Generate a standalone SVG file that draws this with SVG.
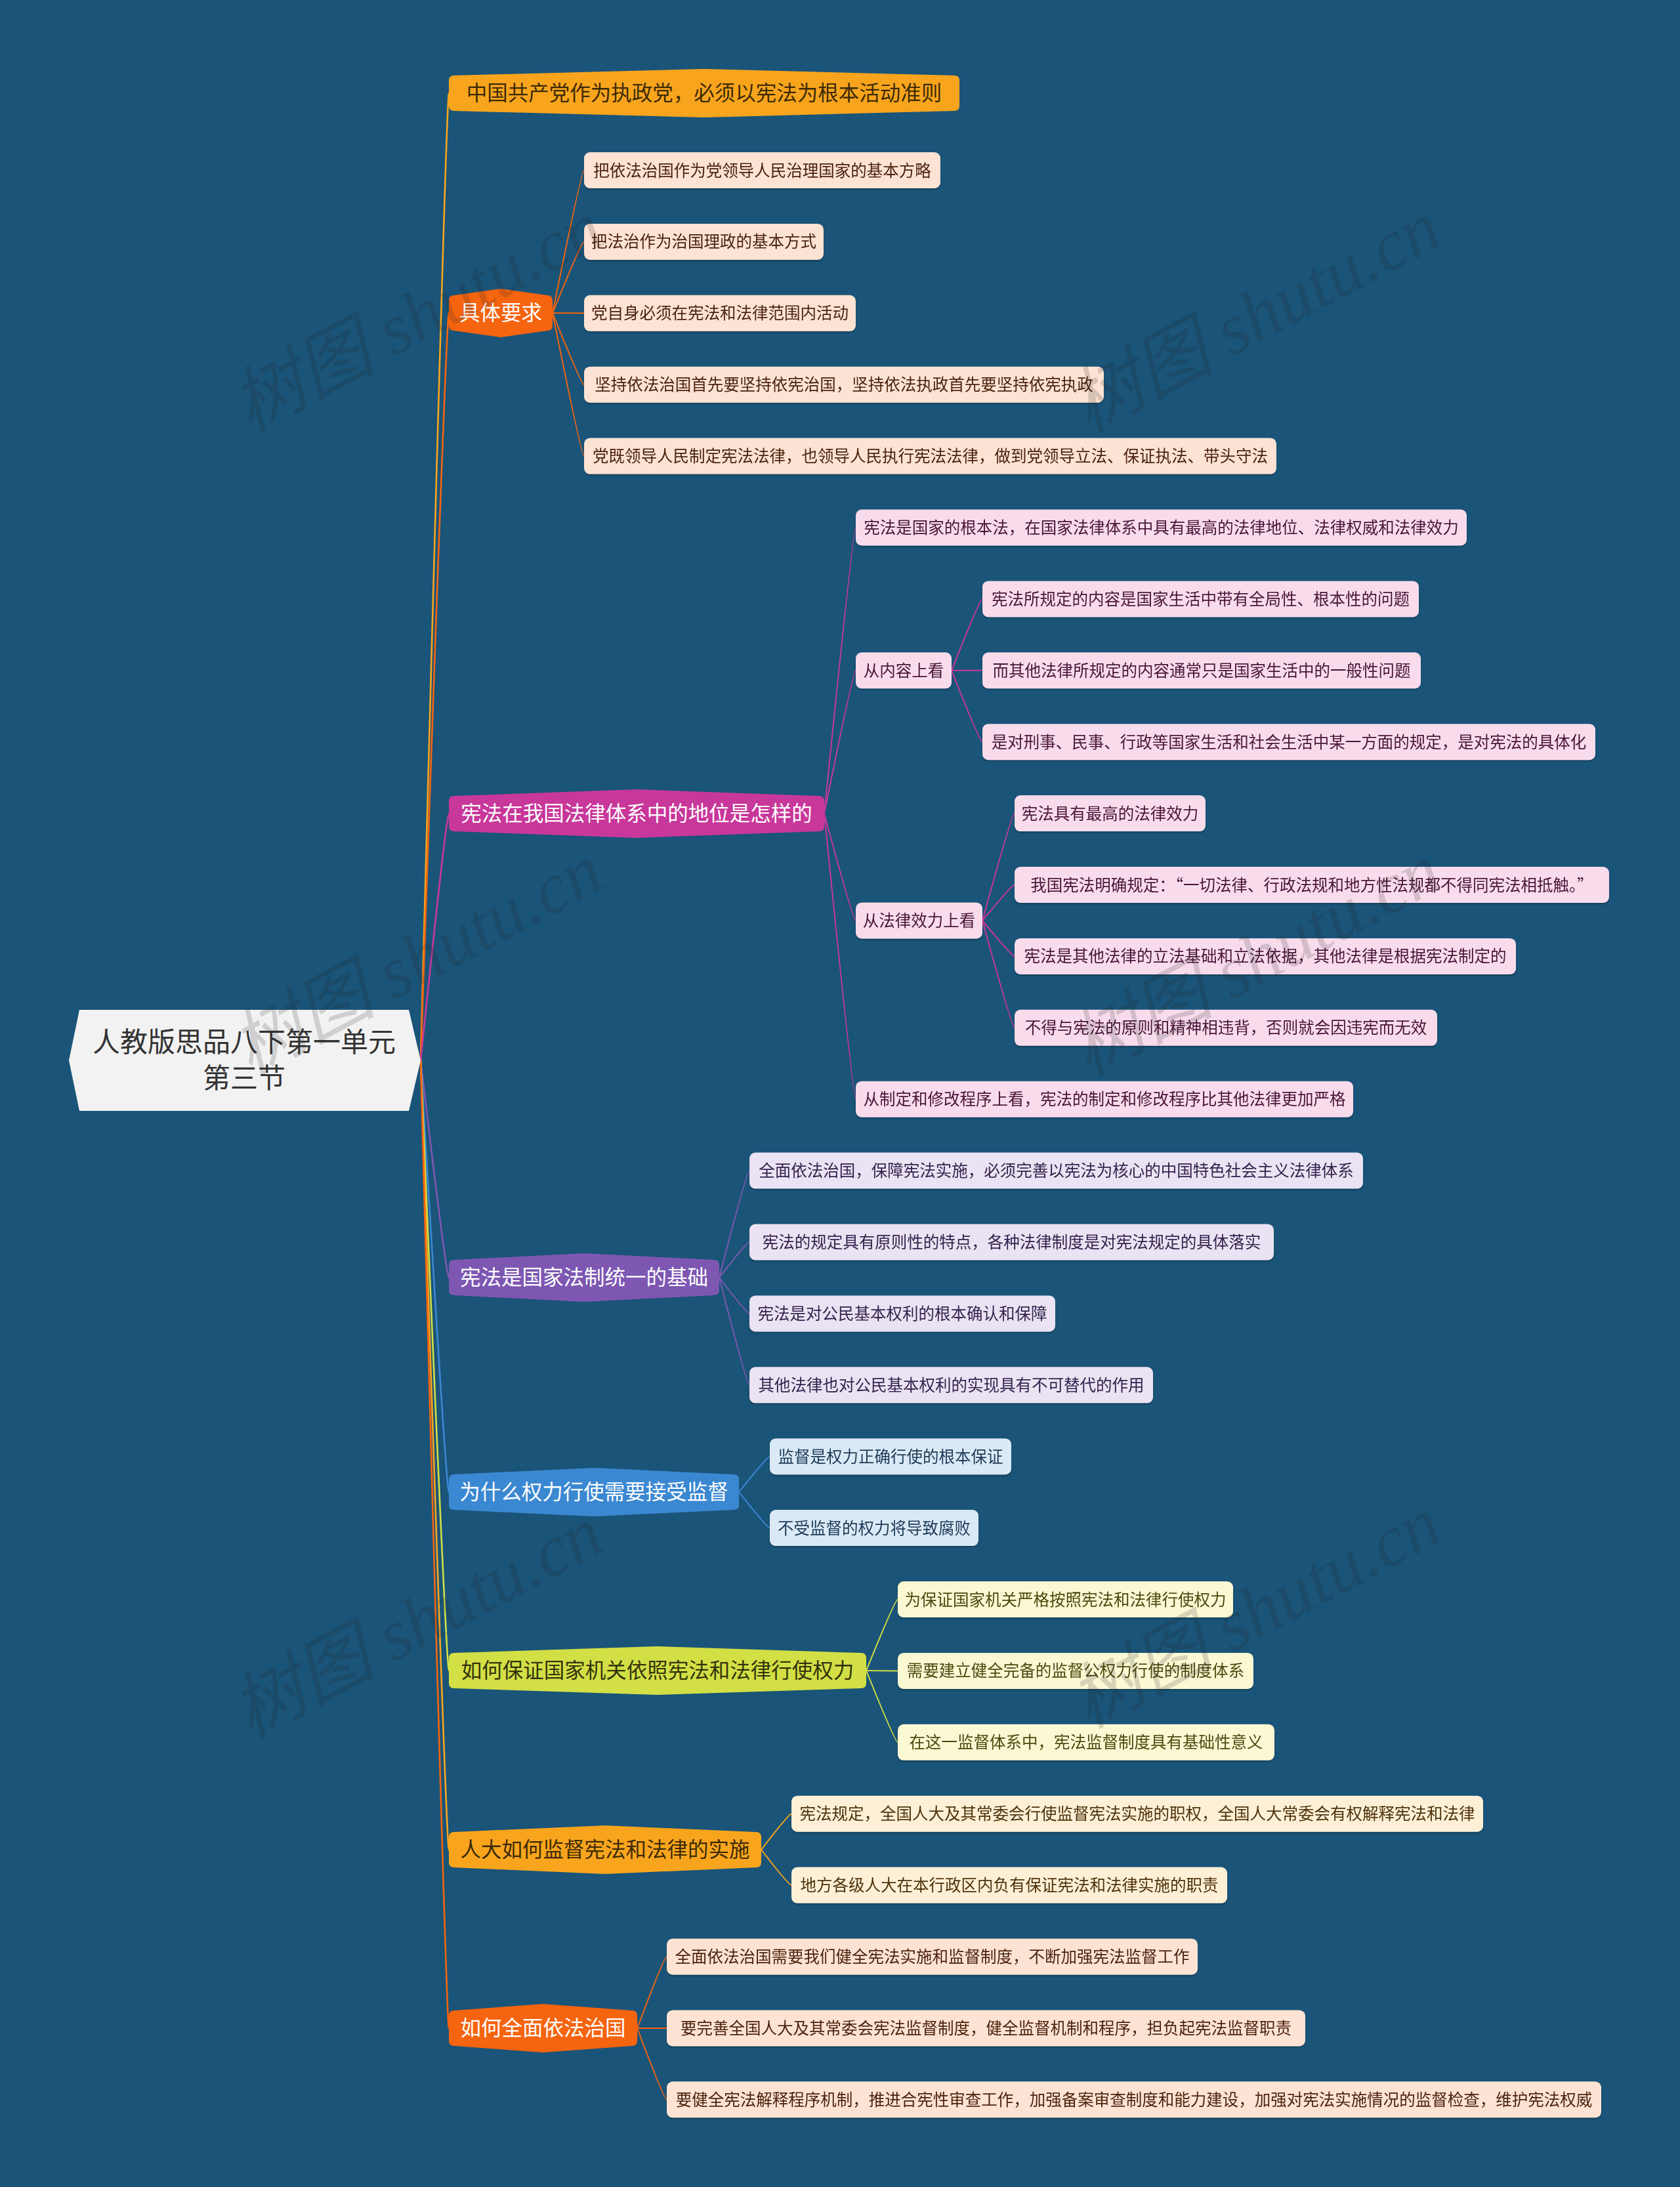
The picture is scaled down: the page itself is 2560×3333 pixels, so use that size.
<svg xmlns="http://www.w3.org/2000/svg" width="2560" height="3333" viewBox="0 0 2560 3333">
<defs>
<style>
.bt{font-family:"Noto Sans CJK SC","Noto Sans",sans-serif;font-size:31.5px;text-anchor:middle}
.ct{font-family:"Noto Sans CJK SC","Noto Sans",sans-serif;font-size:24.5px;text-anchor:middle}
.rt{font-family:"Noto Sans CJK SC","Noto Sans",sans-serif;font-size:42px;text-anchor:middle;fill:#333333}
.wm{font-family:"Liberation Serif","Noto Sans CJK SC",serif;font-size:110px;font-style:italic;fill:#222222;fill-opacity:0.17;text-anchor:middle}
.c{fill:none;stroke-width:2}
.m{fill:none;stroke-width:2.6}
.n{filter:url(#sh)}
.k2{fill:#fde3d3}.k2t{fill:#4b2410}
.k3{fill:#f8dcec}.k3t{fill:#4a1437}
.k4{fill:#ebe3f3}.k4t{fill:#33244d}
.k5{fill:#dae9f6}.k5t{fill:#1d3a56}
.k6{fill:#fbf8d4}.k6t{fill:#4d4a10}
.k7{fill:#fef0d7}.k7t{fill:#4d3208}
</style>
<filter id="sh" x="-5%" y="-20%" width="110%" height="150%">
<feDropShadow dx="0" dy="2" stdDeviation="1" flood-color="#000" flood-opacity="0.25"/>
</filter>
</defs>
<rect x="0" y="0" width="2560" height="3333" fill="#1a5478"/>

<g id="connectors">
<path class="m" stroke="#f8a51d" d="M641,1616 Q680,142 684,142"/>
<path class="m" stroke="#f5640f" d="M641,1616 Q680,477 684,477"/>
<path class="m" stroke="#c8379a" d="M641,1616 Q680,1240 684,1240"/>
<path class="m" stroke="#7d57b2" d="M641,1616 Q680,1947 684,1947"/>
<path class="m" stroke="#3b88d2" d="M641,1616 Q680,2274 684,2274"/>
<path class="m" stroke="#d2df45" d="M641,1616 Q680,2546 684,2546"/>
<path class="m" stroke="#f8a51d" d="M641,1616 Q680,2819 684,2819"/>
<path class="m" stroke="#f5640f" d="M641,1616 Q680,3091 684,3091"/>

<path class="c" stroke="#f5640f" d="M842,477 Q886,259.5 890,259.5"/>
<path class="c" stroke="#f5640f" d="M842,477 Q886,368.4 890,368.4"/>
<path class="c" stroke="#f5640f" d="M842,477 Q886,477.3 890,477.3"/>
<path class="c" stroke="#f5640f" d="M842,477 Q886,586.2 890,586.2"/>
<path class="c" stroke="#f5640f" d="M842,477 Q886,695.1 890,695.1"/>

<path class="c" stroke="#c8379a" d="M1256,1240 Q1300,804 1304,804"/>
<path class="c" stroke="#c8379a" d="M1256,1240 Q1300,1021.8 1304,1021.8"/>
<path class="c" stroke="#c8379a" d="M1256,1240 Q1300,1403 1304,1403"/>
<path class="c" stroke="#c8379a" d="M1256,1240 Q1300,1675.2 1304,1675.2"/>
<path class="c" stroke="#c8379a" d="M1450,1021.8 Q1493,912.9 1497,912.9"/>
<path class="c" stroke="#c8379a" d="M1450,1021.8 Q1493,1021.8 1497,1021.8"/>
<path class="c" stroke="#c8379a" d="M1450,1021.8 Q1493,1130.7 1497,1130.7"/>
<path class="c" stroke="#c8379a" d="M1497,1403 Q1542,1239.6 1546,1239.6"/>
<path class="c" stroke="#c8379a" d="M1497,1403 Q1542,1348.5 1546,1348.5"/>
<path class="c" stroke="#c8379a" d="M1497,1403 Q1542,1457.4 1546,1457.4"/>
<path class="c" stroke="#c8379a" d="M1497,1403 Q1542,1566.3 1546,1566.3"/>

<path class="c" stroke="#7d57b2" d="M1096,1947 Q1138,1784.1 1142,1784.1"/>
<path class="c" stroke="#7d57b2" d="M1096,1947 Q1138,1893 1142,1893"/>
<path class="c" stroke="#7d57b2" d="M1096,1947 Q1138,2001.9 1142,2001.9"/>
<path class="c" stroke="#7d57b2" d="M1096,1947 Q1138,2110.8 1142,2110.8"/>

<path class="c" stroke="#3b88d2" d="M1126,2274 Q1169,2219.7 1173,2219.7"/>
<path class="c" stroke="#3b88d2" d="M1126,2274 Q1169,2328.6 1173,2328.6"/>

<path class="c" stroke="#d2df45" d="M1320,2546 Q1364,2437.5 1368,2437.5"/>
<path class="c" stroke="#d2df45" d="M1320,2546 Q1364,2546.4 1368,2546.4"/>
<path class="c" stroke="#d2df45" d="M1320,2546 Q1364,2655.3 1368,2655.3"/>

<path class="c" stroke="#f8a51d" d="M1160,2819 Q1202,2764.2 1206,2764.2"/>
<path class="c" stroke="#f8a51d" d="M1160,2819 Q1202,2873.1 1206,2873.1"/>

<path class="c" stroke="#f5640f" d="M971,3091 Q1012,2982 1016,2982"/>
<path class="c" stroke="#f5640f" d="M971,3091 Q1012,3090.9 1016,3090.9"/>
<path class="c" stroke="#f5640f" d="M971,3091 Q1012,3199.8 1016,3199.8"/>
</g>

<g id="root">
<polygon points="105,1616 121,1539 623,1539 641,1616 623,1693 121,1693" fill="#f2f2f2"/>
<text class="rt" x="372" y="1603">人教版思品八下第一单元</text>
<text class="rt" x="372" y="1658">第三节</text>
</g>

<g id="b1">
<path fill="#f8a51d" d="M692,115 L1073,105 L1454,115 Q1462,115 1462,123 L1462,161 Q1462,169 1454,169 L1073,179 L692,169 Q684,169 684,161 L684,123 Q684,115 692,115 Z"/>
<text class="bt" x="1073" y="153" fill="#3d2a05">中国共产党作为执政党，必须以宪法为根本活动准则</text>
</g>

<g id="b2">
<path fill="#f5640f" d="M692,450 L763,440 L834,450 Q842,450 842,458 L842,496 Q842,504 834,504 L763,514 L692,504 Q684,504 684,496 L684,458 Q684,450 692,450 Z"/>
<text class="bt" x="763" y="488" fill="#ffffff">具体要求</text>
</g>
<g id="b2-1" class="n"><rect class="k2" x="890" y="232" width="543" height="55" rx="9"/><text class="ct k2t" x="1161.5" y="268.5">把依法治国作为党领导人民治理国家的基本方略</text></g>
<g id="b2-2" class="n"><rect class="k2" x="890" y="340.9" width="365" height="55" rx="9"/><text class="ct k2t" x="1072.5" y="377.4">把法治作为治国理政的基本方式</text></g>
<g id="b2-3" class="n"><rect class="k2" x="890" y="449.8" width="414" height="55" rx="9"/><text class="ct k2t" x="1097" y="486.3">党自身必须在宪法和法律范围内活动</text></g>
<g id="b2-4" class="n"><rect class="k2" x="890" y="558.7" width="792" height="55" rx="9"/><text class="ct k2t" x="1286" y="595.2">坚持依法治国首先要坚持依宪治国，坚持依法执政首先要坚持依宪执政</text></g>
<g id="b2-5" class="n"><rect class="k2" x="890" y="667.6" width="1055" height="55" rx="9"/><text class="ct k2t" x="1417.5" y="704.1">党既领导人民制定宪法法律，也领导人民执行宪法法律，做到党领导立法、保证执法、带头守法</text></g>

<g id="b3">
<path fill="#c8379a" d="M692,1213 L970,1203 L1248,1213 Q1256,1213 1256,1221 L1256,1259 Q1256,1267 1248,1267 L970,1277 L692,1267 Q684,1267 684,1259 L684,1221 Q684,1213 692,1213 Z"/>
<text class="bt" x="970" y="1251" fill="#ffffff">宪法在我国法律体系中的地位是怎样的</text>
</g>
<g id="b3-1" class="n"><rect class="k3" x="1304" y="776.5" width="931" height="55" rx="9"/><text class="ct k3t" x="1769.5" y="813">宪法是国家的根本法，在国家法律体系中具有最高的法律地位、法律权威和法律效力</text></g>
<g id="b3-2" class="n"><rect class="k3" x="1304" y="994.3" width="146" height="55" rx="9"/><text class="ct k3t" x="1377" y="1030.8">从内容上看</text></g>
<g id="b3-2-1" class="n"><rect class="k3" x="1497" y="885.4" width="665" height="55" rx="9"/><text class="ct k3t" x="1829.5" y="921.9">宪法所规定的内容是国家生活中带有全局性、根本性的问题</text></g>
<g id="b3-2-2" class="n"><rect class="k3" x="1497" y="994.3" width="668" height="55" rx="9"/><text class="ct k3t" x="1831" y="1030.8">而其他法律所规定的内容通常只是国家生活中的一般性问题</text></g>
<g id="b3-2-3" class="n"><rect class="k3" x="1497" y="1103.2" width="934" height="55" rx="9"/><text class="ct k3t" x="1964" y="1139.7">是对刑事、民事、行政等国家生活和社会生活中某一方面的规定，是对宪法的具体化</text></g>
<g id="b3-3" class="n"><rect class="k3" x="1304" y="1375.5" width="193" height="55" rx="9"/><text class="ct k3t" x="1400.5" y="1412">从法律效力上看</text></g>
<g id="b3-3-1" class="n"><rect class="k3" x="1546" y="1212.1" width="291" height="55" rx="9"/><text class="ct k3t" x="1691.5" y="1248.6">宪法具有最高的法律效力</text></g>
<g id="b3-3-2" class="n"><rect class="k3" x="1546" y="1321" width="906" height="55" rx="9"/><text class="ct k3t" x="1999" y="1357.5">我国宪法明确规定：“一切法律、行政法规和地方性法规都不得同宪法相抵触。”</text></g>
<g id="b3-3-3" class="n"><rect class="k3" x="1546" y="1429.9" width="764" height="55" rx="9"/><text class="ct k3t" x="1928" y="1466.4">宪法是其他法律的立法基础和立法依据，其他法律是根据宪法制定的</text></g>
<g id="b3-3-4" class="n"><rect class="k3" x="1546" y="1538.8" width="644" height="55" rx="9"/><text class="ct k3t" x="1868" y="1575.3">不得与宪法的原则和精神相违背，否则就会因违宪而无效</text></g>
<g id="b3-4" class="n"><rect class="k3" x="1304" y="1647.7" width="758" height="55" rx="9"/><text class="ct k3t" x="1683" y="1684.2">从制定和修改程序上看，宪法的制定和修改程序比其他法律更加严格</text></g>

<g id="b4">
<path fill="#7d57b2" d="M692,1920 L890,1910 L1088,1920 Q1096,1920 1096,1928 L1096,1966 Q1096,1974 1088,1974 L890,1984 L692,1974 Q684,1974 684,1966 L684,1928 Q684,1920 692,1920 Z"/>
<text class="bt" x="890" y="1958" fill="#ffffff">宪法是国家法制统一的基础</text>
</g>
<g id="b4-1" class="n"><rect class="k4" x="1142" y="1756.6" width="935" height="55" rx="9"/><text class="ct k4t" x="1609.5" y="1793.1">全面依法治国，保障宪法实施，必须完善以宪法为核心的中国特色社会主义法律体系</text></g>
<g id="b4-2" class="n"><rect class="k4" x="1142" y="1865.5" width="799" height="55" rx="9"/><text class="ct k4t" x="1541.5" y="1902">宪法的规定具有原则性的特点，各种法律制度是对宪法规定的具体落实</text></g>
<g id="b4-3" class="n"><rect class="k4" x="1142" y="1974.4" width="466" height="55" rx="9"/><text class="ct k4t" x="1375" y="2010.9">宪法是对公民基本权利的根本确认和保障</text></g>
<g id="b4-4" class="n"><rect class="k4" x="1142" y="2083.3" width="615" height="55" rx="9"/><text class="ct k4t" x="1449.5" y="2119.8">其他法律也对公民基本权利的实现具有不可替代的作用</text></g>

<g id="b5">
<path fill="#3b88d2" d="M692,2247 L905,2237 L1118,2247 Q1126,2247 1126,2255 L1126,2293 Q1126,2301 1118,2301 L905,2311 L692,2301 Q684,2301 684,2293 L684,2255 Q684,2247 692,2247 Z"/>
<text class="bt" x="905" y="2285" fill="#ffffff">为什么权力行使需要接受监督</text>
</g>
<g id="b5-1" class="n"><rect class="k5" x="1173" y="2192.2" width="368" height="55" rx="9"/><text class="ct k5t" x="1357" y="2228.7">监督是权力正确行使的根本保证</text></g>
<g id="b5-2" class="n"><rect class="k5" x="1173" y="2301.1" width="318" height="55" rx="9"/><text class="ct k5t" x="1332" y="2337.6">不受监督的权力将导致腐败</text></g>

<g id="b6">
<path fill="#d2df45" d="M692,2519 L1002,2509 L1312,2519 Q1320,2519 1320,2527 L1320,2565 Q1320,2573 1312,2573 L1002,2583 L692,2573 Q684,2573 684,2565 L684,2527 Q684,2519 692,2519 Z"/>
<text class="bt" x="1002" y="2557" fill="#33330a">如何保证国家机关依照宪法和法律行使权力</text>
</g>
<g id="b6-1" class="n"><rect class="k6" x="1368" y="2410" width="511" height="55" rx="9"/><text class="ct k6t" x="1623.5" y="2446.5">为保证国家机关严格按照宪法和法律行使权力</text></g>
<g id="b6-2" class="n"><rect class="k6" x="1368" y="2518.9" width="542" height="55" rx="9"/><text class="ct k6t" x="1639" y="2555.4">需要建立健全完备的监督公权力行使的制度体系</text></g>
<g id="b6-3" class="n"><rect class="k6" x="1368" y="2627.8" width="574" height="55" rx="9"/><text class="ct k6t" x="1655" y="2664.3">在这一监督体系中，宪法监督制度具有基础性意义</text></g>

<g id="b7">
<path fill="#f8a51d" d="M692,2792 L922,2782 L1152,2792 Q1160,2792 1160,2800 L1160,2838 Q1160,2846 1152,2846 L922,2856 L692,2846 Q684,2846 684,2838 L684,2800 Q684,2792 692,2792 Z"/>
<text class="bt" x="922" y="2830" fill="#3d2a05">人大如何监督宪法和法律的实施</text>
</g>
<g id="b7-1" class="n"><rect class="k7" x="1206" y="2736.7" width="1054" height="55" rx="9"/><text class="ct k7t" x="1733" y="2773.2">宪法规定，全国人大及其常委会行使监督宪法实施的职权，全国人大常委会有权解释宪法和法律</text></g>
<g id="b7-2" class="n"><rect class="k7" x="1206" y="2845.6" width="664" height="55" rx="9"/><text class="ct k7t" x="1538" y="2882.1">地方各级人大在本行政区内负有保证宪法和法律实施的职责</text></g>

<g id="b8">
<path fill="#f5640f" d="M692,3064 L827.5,3054 L963,3064 Q971,3064 971,3072 L971,3110 Q971,3118 963,3118 L827.5,3128 L692,3118 Q684,3118 684,3110 L684,3072 Q684,3064 692,3064 Z"/>
<text class="bt" x="827.5" y="3102" fill="#ffffff">如何全面依法治国</text>
</g>
<g id="b8-1" class="n"><rect class="k2" x="1016" y="2954.5" width="809" height="55" rx="9"/><text class="ct k2t" x="1420.5" y="2991">全面依法治国需要我们健全宪法实施和监督制度，不断加强宪法监督工作</text></g>
<g id="b8-2" class="n"><rect class="k2" x="1016" y="3063.4" width="973" height="55" rx="9"/><text class="ct k2t" x="1502.5" y="3099.9">要完善全国人大及其常委会宪法监督制度，健全监督机制和程序，担负起宪法监督职责</text></g>
<g id="b8-3" class="n"><rect class="k2" x="1016" y="3172.3" width="1424" height="55" rx="9"/><text class="ct k2t" x="1728" y="3208.8">要健全宪法解释程序机制，推进合宪性审查工作，加强备案审查制度和能力建设，加强对宪法实施情况的监督检查，维护宪法权威</text></g>

<g id="watermarks">
<text class="wm" transform="translate(653,515) rotate(-28)">树图 shutu.cn</text>
<text class="wm" transform="translate(1930,515) rotate(-28)">树图 shutu.cn</text>
<text class="wm" transform="translate(653,1495) rotate(-28)">树图 shutu.cn</text>
<text class="wm" transform="translate(1930,1495) rotate(-28)">树图 shutu.cn</text>
<text class="wm" transform="translate(653,2505) rotate(-28)">树图 shutu.cn</text>
<text class="wm" transform="translate(1930,2490) rotate(-28)">树图 shutu.cn</text>
</g>
</svg>
